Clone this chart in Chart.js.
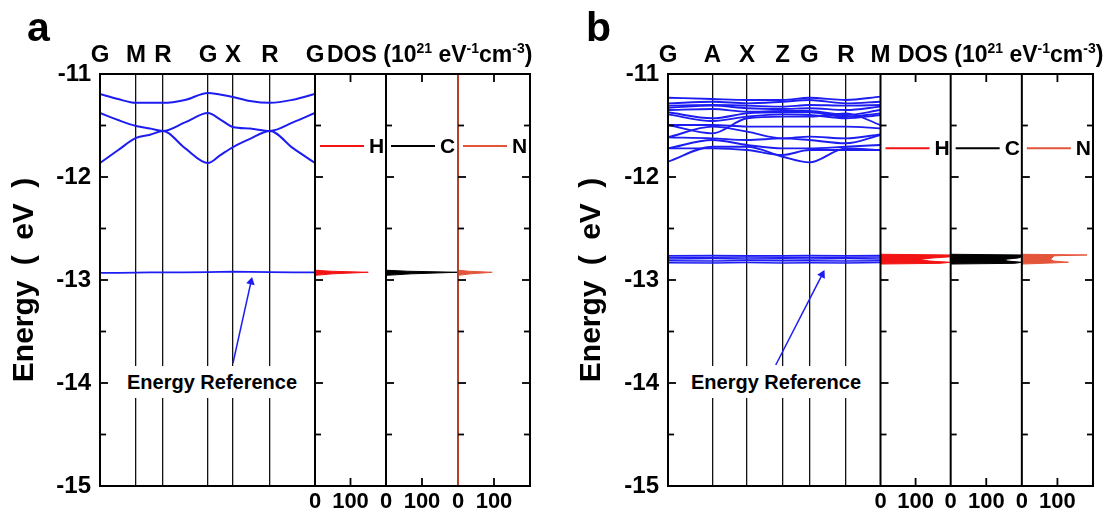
<!DOCTYPE html>
<html><head><meta charset="utf-8">
<script src="https://cdn.jsdelivr.net/npm/chart.js@4/dist/chart.umd.min.js"></script>
<style>
html,body{margin:0;padding:0;background:#fff;}
#wrap{position:relative;width:1107px;height:511px;overflow:hidden;font-family:'Liberation Sans',Arial,sans-serif;font-weight:bold;color:#000;}
canvas{position:absolute;top:0;}
.t{position:absolute;white-space:nowrap;line-height:1;}
.ref{position:absolute;background:#fff;font-size:20px;white-space:nowrap;text-align:center;height:32px;line-height:32px;width:188px;top:366px;}
.dos{font-size:23px;}
.dos sup{font-size:14px;vertical-align:9px;line-height:0;}
.ytitle{position:absolute;font-size:30px;white-space:nowrap;line-height:1;word-spacing:7px;transform:translate(-50%,-50%) rotate(-90deg);}
</style></head>
<body><div id="wrap">
<canvas id="ca" width="545" height="511" style="left:0"></canvas>
<canvas id="cb" width="562" height="511" style="left:545px"></canvas>
<div class="t" style="left:27px;top:7px;font-size:41px;">a</div>
<div class="t" style="left:586px;top:7px;font-size:41px;">b</div>
<div class="t dos" style="left:327px;top:43px;">DOS (10<sup>21</sup> eV<sup>-1</sup>cm<sup>-3</sup>)</div>
<div class="t dos" style="left:898px;top:43px;">DOS (10<sup>21</sup> eV<sup>-1</sup>cm<sup>-3</sup>)</div>
<div class="ytitle" style="left:23px;top:280px;">Energy ( eV )</div>
<div class="ytitle" style="left:590px;top:280px;">Energy ( eV )</div>
<div class="ref" style="left:118px;">Energy Reference</div>
<div class="ref" style="left:682px;">Energy Reference</div>
</div>
<script>
const F = "'Liberation Sans', Arial, sans-serif";
const BLUE = '#1d1df2';
const RED = '#f21414';
const ORANGE = '#e3553a';

// shared axis ticks
const yTickVals = [-15, -14.5, -14, -13.5, -13, -12.5, -12, -11.5, -11];
const dosTickVals = [0, 100];
const dosTopTickVals = [100];
const dosLabels = ['H', 'C', 'N'];

// ---------- panel a ----------
const kLabelsA = ['G', 'M', 'R', 'G', 'X', 'R', 'G'];
const kPosA = [0, 36, 63, 108, 133, 170, 215];
const kGridA = [0, 18, 36, 50, 63, 85, 108, 120, 133, 150, 170, 193, 215];
const bandA1 = [-11.194, -11.243, -11.280, -11.280, -11.280, -11.252, -11.184, -11.200, -11.223, -11.262, -11.280, -11.250, -11.194];
const bandA2 = [-11.379, -11.447, -11.505, -11.530, -11.553, -11.470, -11.379, -11.440, -11.515, -11.530, -11.553, -11.470, -11.379];
const bandA3 = [-11.864, -11.740, -11.621, -11.590, -11.553, -11.720, -11.864, -11.790, -11.709, -11.630, -11.553, -11.720, -11.864];
const bandA0 = [-12.930, -12.930, -12.928, -12.926, -12.926, -12.925, -12.924, -12.922, -12.920, -12.922, -12.924, -12.925, -12.925];
const dosEA = [-12.955, -12.940, -12.925, -12.915, -12.905];
const dosHA = [0, 50, 150, 45, 0];
const dosCA = [0, 70, 200, 60, 0];
const dosNA = [0, 35, 95, 30, 0];
const arrowAk = [133, 151];
const arrowAE = [-13.806, -13.018];

// ---------- panel b ----------
const kLabelsB = ['G', 'A', 'X', 'Z', 'G', 'R', 'M'];
const kPosB = [0, 45, 80, 116, 143, 180, 215];
const bandsB = [
  [-11.230, -11.243, -11.252, -11.252, -11.230, -11.252, -11.220],
  [-11.285, -11.269, -11.285, -11.269, -11.252, -11.285, -11.269],
  [-11.307, -11.301, -11.307, -11.317, -11.301, -11.307, -11.301],
  [-11.327, -11.307, -11.333, -11.340, -11.333, -11.350, -11.317],
  [-11.350, -11.340, -11.366, -11.359, -11.359, -11.398, -11.350],
  [-11.372, -11.430, -11.382, -11.372, -11.372, -11.414, -11.382],
  [-11.392, -11.456, -11.414, -11.392, -11.398, -11.430, -11.398],
  [-11.495, -11.576, -11.430, -11.414, -11.414, -11.382, -11.495],
  [-11.495, -11.495, -11.511, -11.511, -11.511, -11.511, -11.528],
  [-11.615, -11.511, -11.560, -11.625, -11.608, -11.625, -11.586],
  [-11.615, -11.625, -11.641, -11.625, -11.641, -11.673, -11.592],
  [-11.722, -11.641, -11.689, -11.722, -11.722, -11.706, -11.689],
  [-11.722, -11.722, -11.738, -11.786, -11.738, -11.738, -11.738],
  [-11.851, -11.706, -11.706, -11.803, -11.858, -11.722, -11.738]
];
const flatB = [
  [-12.765, -12.762, -12.765, -12.764, -12.762, -12.765, -12.763],
  [-12.778, -12.780, -12.777, -12.780, -12.778, -12.780, -12.777],
  [-12.795, -12.792, -12.796, -12.793, -12.795, -12.792, -12.795],
  [-12.812, -12.815, -12.811, -12.814, -12.812, -12.815, -12.812],
  [-12.832, -12.834, -12.831, -12.835, -12.832, -12.834, -12.831]
];
const dosEB = [-12.750, -12.757, -12.765, -12.775, -12.786, -12.800, -12.816, -12.828, -12.838, -12.845];
const dosHB = [0, 200, 200, 200, 150, 110, 140, 200, 170, 0];
const dosCB = [0, 200, 200, 200, 190, 150, 160, 200, 180, 0];
const dosNB = [0, 183, 90, 88, 85, 80, 90, 131, 60, 0];
const arrowBk = [109, 156];
const arrowBE = [-13.825, -12.947];

// ---------- helpers ----------
const pts = (xs, ys) => xs.map((x, i) => ({x: x, y: ys[i]}));

const framePlugin = {
  id: 'frame',
  afterDatasetsDraw(chart, args, o) {
    const {ctx, chartArea: a, scales: s} = chart;
    ctx.save();
    ['xH', 'xC', 'xN'].forEach((id, i) => {
      const x = s[id].left;
      ctx.strokeStyle = o.sepColors[i]; ctx.lineWidth = 2;
      ctx.beginPath(); ctx.moveTo(x, a.top); ctx.lineTo(x, a.bottom); ctx.stroke();
    });
    ctx.strokeStyle = '#000'; ctx.lineWidth = 2;
    ctx.strokeRect(a.left, a.top, a.width, a.height);
    ctx.lineWidth = 1.8;
    const edges = [[a.left, 1], [s.xH.left, 1], [s.xC.left, 1], [s.xN.left, 1], [a.right, -1]];
    s.y.ticks.forEach(t => {
      const py = s.y.getPixelForValue(t.value);
      const len = Number.isInteger(t.value) ? 8 : 6;
      edges.forEach(([x, d]) => { ctx.beginPath(); ctx.moveTo(x, py); ctx.lineTo(x + d * len, py); ctx.stroke(); });
    });
    ['xH', 'xC', 'xN'].forEach(id => {
      s[id].ticks.forEach(t => {
        if (t.value === 0) return;
        const px = s[id].getPixelForValue(t.value);
        ctx.beginPath(); ctx.moveTo(px, a.top); ctx.lineTo(px, a.top + 8); ctx.stroke();
        ctx.beginPath(); ctx.moveTo(px, a.bottom); ctx.lineTo(px, a.bottom - 8); ctx.stroke();
      });
    });
    // per-element legends
    const py = s.y.getPixelForValue(o.legendE);
    chart.data.datasets.filter(d => d.isDos).forEach(d => {
      const sc = s[d.xAxisID];
      ctx.strokeStyle = d.borderColor; ctx.lineWidth = 2;
      ctx.beginPath(); ctx.moveTo(sc.left + 5, py); ctx.lineTo(sc.left + 49, py); ctx.stroke();
      ctx.fillStyle = '#000'; ctx.font = 'bold 21px ' + F;
      ctx.textBaseline = 'middle'; ctx.textAlign = 'left';
      ctx.fillText(d.label, sc.left + 54, py + 1);
    });
    ctx.restore();
  }
};

function makePanel(id, P) {
  const datasets = [];
  P.bands.forEach(b => datasets.push({
    data: pts(P.kGrid, b), xAxisID: 'xBand', yAxisID: 'y', borderColor: BLUE,
    borderWidth: P.bandWidth, pointRadius: 0, fill: false, cubicInterpolationMode: 'monotone'
  }));
  P.flats.forEach(b => datasets.push({
    data: pts(P.kFlat, b), xAxisID: 'xBand', yAxisID: 'y', borderColor: BLUE,
    borderWidth: P.flatWidth, pointRadius: 0, fill: false, tension: 0
  }));
  const dosCols = [RED, '#000', ORANGE];
  [P.dosH, P.dosC, P.dosN].forEach((vals, i) => datasets.push({
    label: dosLabels[i], isDos: true, data: pts(vals, P.dosE),
    xAxisID: ['xH', 'xC', 'xN'][i], yAxisID: 'y', borderColor: dosCols[i], backgroundColor: dosCols[i],
    borderWidth: 1, pointRadius: 0, fill: 'shape', tension: 0
  }));
  datasets.push({
    data: pts(P.arrowK, P.arrowE), xAxisID: 'xBand', yAxisID: 'y', borderColor: BLUE,
    backgroundColor: BLUE, borderWidth: 1.5, pointRadius: [0, 5], pointStyle: 'triangle',
    rotation: P.arrowRot, pointBorderWidth: 0, fill: false, tension: 0
  });
  const noGrid = {display: false, drawTicks: false};
  const tickFont = {family: F, size: 24, weight: 'bold'};
  const botH = ax => { ax.height = 25; };
  const topH = ax => { ax.height = 74; };
  const dosBottom = (w, wt) => ({
    type: 'linear', position: 'bottom', stack: 'bot', stackWeight: w, weight: wt, min: 0, max: 200,
    afterBuildTicks: ax => { ax.ticks = dosTickVals.map(v => ({value: v})); },
    ticks: {font: {family: F, size: 22, weight: 'bold'}, color: '#000', padding: 3, autoSkip: false, maxRotation: 0},
    grid: noGrid, border: {display: false}, afterFit: botH
  });
  const dosTop = (w, wt) => ({
    type: 'linear', position: 'top', stack: 'top', stackWeight: w, weight: wt, min: 0, max: 200,
    afterBuildTicks: ax => { ax.ticks = dosTopTickVals.map(v => ({value: v})); },
    ticks: {display: false}, grid: noGrid, border: {display: false}, afterFit: topH
  });
  return new Chart(document.getElementById(id), {
    type: 'line',
    data: {datasets: datasets},
    options: {
      responsive: false, animation: false, devicePixelRatio: 1,
      layout: {padding: {left: 0, right: P.padRight, top: 0, bottom: 0}},
      plugins: {legend: {display: false}, tooltip: {enabled: false},
        frame: {sepColors: P.sepColors, legendE: P.legendE}},
      scales: {
        y: {
          type: 'linear', position: 'left', min: -15, max: -11,
          afterBuildTicks: ax => { ax.ticks = yTickVals.map(v => ({value: v})); },
          ticks: {font: tickFont, color: '#000', padding: 9,
            callback: v => Number.isInteger(v) ? String(v) : ''},
          grid: {drawOnChartArea: false, drawTicks: false}, border: {display: false},
          afterFit: ax => { ax.width = P.yAxisW; }
        },
        xBand: {
          type: 'linear', position: 'bottom', stack: 'bot', stackWeight: 215, weight: 1, min: 0, max: 215,
          afterBuildTicks: ax => { ax.ticks = P.kPos.map(v => ({value: v})); },
          ticks: {display: false},
          grid: {drawTicks: false, lineWidth: 1.3,
            color: c => (c.tick && c.tick.value > 0 && c.tick.value < 215) ? '#111' : 'rgba(0,0,0,0)'},
          border: {display: false}, afterFit: botH
        },
        xH: dosBottom(71, 2), xC: dosBottom(72, 3), xN: dosBottom(72, 4),
        xBandTop: {
          type: 'linear', position: 'top', stack: 'top', stackWeight: 215, weight: 8, min: 0, max: 215,
          afterBuildTicks: ax => { ax.ticks = P.kPos.map(v => ({value: v})); },
          ticks: {font: {family: F, size: 24, weight: 'bold'}, color: '#000', padding: 4,
            autoSkip: false, maxRotation: 0, callback: (v, i) => P.kLabels[i]},
          grid: noGrid, border: {display: false}, afterFit: topH
        },
        xHTop: dosTop(71, 7), xCTop: dosTop(72, 6), xNTop: dosTop(72, 5)
      }
    },
    plugins: [framePlugin]
  });
}

makePanel('ca', {
  yAxisW: 100, padRight: 15, kPos: kPosA, kLabels: kLabelsA,
  kGrid: kGridA, bands: [bandA1, bandA2, bandA3], bandWidth: 2,
  kFlat: kGridA, flats: [bandA0], flatWidth: 1.8,
  dosE: dosEA, dosH: dosHA, dosC: dosCA, dosN: dosNA,
  sepColors: ['#000', '#000', '#b8402a'], legendE: -11.70,
  arrowK: arrowAk, arrowE: arrowAE, arrowRot: 12.6
});
makePanel('cb', {
  yAxisW: 123, padRight: 9, kPos: kPosB, kLabels: kLabelsB,
  kGrid: kPosB, bands: bandsB, bandWidth: 1.9,
  kFlat: kPosB, flats: flatB, flatWidth: 1.5,
  dosE: dosEB, dosH: dosHB, dosC: dosCB, dosN: dosNB,
  sepColors: ['#000', '#000', '#000'], legendE: -11.72,
  arrowK: arrowBk, arrowE: arrowBE, arrowRot: 27.5
});
</script>
</body></html>
